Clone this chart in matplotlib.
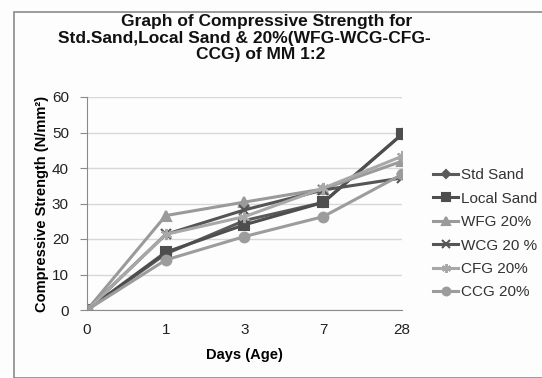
import matplotlib
matplotlib.use("Agg")
import matplotlib.pyplot as plt
from matplotlib.patches import Rectangle

days = ["0", "1", "3", "7", "28"]
std_sand = [0, 15.8, 25.2, 30.3, 49.5]
local_sand = [0, 16.3, 24.0, 30.3, 49.5]
wfg_20 = [0, 26.6, 30.4, 34.1, 41.9]
wcg_20 = [0, 21.3, 28.2, 33.8, 37.2]
cfg_20 = [0, 21.3, 26.3, 34.3, 43.3]
ccg_20 = [0, 14.1, 20.7, 26.3, 38.2]

title_lines = ["Graph of Compressive Strength for",
               "Std.Sand,Local Sand & 20%(WFG-WCG-CFG-",
               "CCG) of MM 1:2"]

series = [
    ("Std Sand", std_sand, "#5a5a5a", "D", 5),
    ("Local Sand", local_sand, "#4e4e4e", "s", 7),
    ("WFG 20%", wfg_20, "#9a9a9a", "^", 7),
    ("WCG 20 %", wcg_20, "#555555", "x", 7),
    ("CFG 20%", cfg_20, "#a8a8a8", (6, 2, 0), 8),
    ("CCG 20%", ccg_20, "#9c9c9c", "o", 7),
]

plt.rcParams['font.family'] = ['Liberation Sans', 'DejaVu Sans']

W, H = 542, 378
fig = plt.figure(figsize=(W / 100, H / 100), dpi=100, facecolor="#fdfdfd")

# outer chart border
fig.patches.append(Rectangle((14 / W, 0), 1.0, 1 - 11.5 / H, transform=fig.transFigure,
                             fill=False, edgecolor="#8a8a8a", linewidth=1.2))

ax = fig.add_axes([87 / W, 1 - 310 / H, (402 - 87) / W, (310 - 97) / H])
ax.set_facecolor("none")

x = list(range(len(days)))
for name, vals, col, mk, ms in series:
    ax.plot(x, vals, color=col, linewidth=2.2, marker=mk, markersize=ms,
            markeredgecolor=col, markerfacecolor=col, markeredgewidth=1.5, label=name)

ax.set_xlim(0, 4)
ax.set_ylim(0, 60)
ax.set_yticks(range(0, 61, 10))
ax.set_xticks(x)
ax.set_xticklabels(days)
ax.yaxis.grid(True, color="#d8d8d8", linewidth=1)
ax.set_axisbelow(True)
for s in ["top", "right"]:
    ax.spines[s].set_visible(False)
ax.spines["left"].set_color("#8a8a8a")
ax.spines["bottom"].set_color("#8a8a8a")
ax.tick_params(axis="y", length=5, color="#8a8a8a", labelsize=11, labelcolor="#222222", pad=8)
ax.tick_params(axis="x", length=0, labelsize=11, labelcolor="#222222", pad=9)
for lbl in ax.get_xticklabels() + ax.get_yticklabels():
    lbl.set_clip_on(False)

ax.set_xlabel("Days (Age)", fontsize=10.5, fontweight="bold", labelpad=8)
ax.set_ylabel("Compressive Strength (N/mm²)", fontsize=10.5, fontweight="bold", labelpad=2)

for (cx, cy), line in zip([(267, 20), (244, 36.5), (261, 53)], title_lines):
    fig.text(cx / W, 1 - cy / H, line, ha="center", va="center_baseline",
             fontsize=12.5, fontweight="bold", color="#111111")

leg = ax.legend(loc="upper left", bbox_to_anchor=(427 / W, 1 - 162 / H), bbox_transform=fig.transFigure,
                frameon=False, fontsize=11, handlelength=1.65, handletextpad=0.15,
                labelspacing=0.62, borderaxespad=0, markerscale=0.8)
for t in leg.get_texts():
    t.set_color("#333333")

fig.savefig("out.png", dpi=100, facecolor=fig.get_facecolor())
